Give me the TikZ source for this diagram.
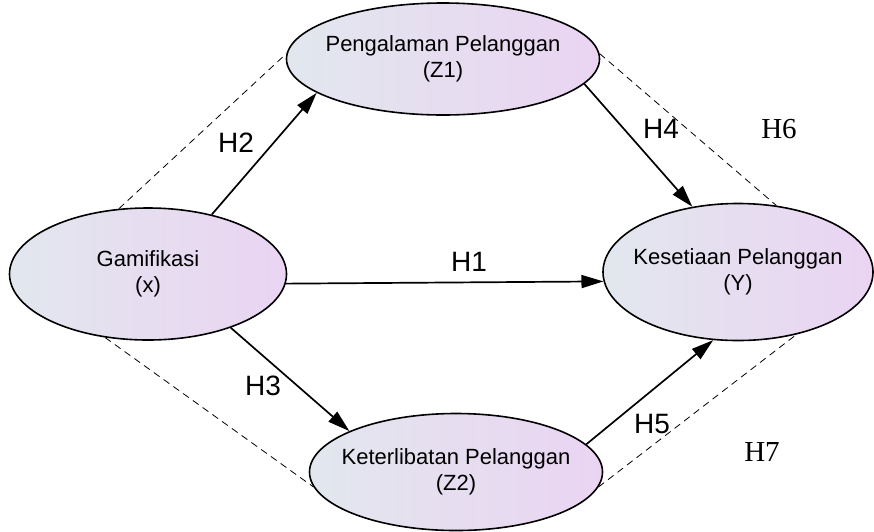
\documentclass[tikz,border=0pt]{standalone}
\usepackage{fontspec}
\setmainfont{Liberation Serif}
\setsansfont{Liberation Sans}
\usetikzlibrary{arrows.meta, shapes.geometric}
\definecolor{fillleft}{RGB}{226,231,238}
\definecolor{fillright}{RGB}{234,212,242}
\tikzset{
  construct/.style={
    ellipse,
    draw=black,
    line width=1.6pt,
    left color=fillleft,
    right color=fillright,
    align=center,
    inner xsep=-14pt,
    inner ysep=0pt,
    font=\sffamily\fontsize{22}{26}\selectfont
  },
  hyp/.style={
    font=\sffamily\fontsize{28}{30}\selectfont
  },
  hypserif/.style={
    font=\rmfamily\fontsize{29}{30}\selectfont
  },
  arrow/.style={draw, line width=1.7pt, -{Triangle[length=22pt,width=13pt]}},
  boundary/.style={draw, line width=0.8pt, dash pattern=on 7pt off 5pt}
}
\begin{document}
\begin{tikzpicture}[x=1pt, y=-1pt]
  \useasboundingbox (0,0) rectangle (874,531);
  \node (gam) [construct, minimum width=277pt, minimum height=132pt] at (148,274) {Gamifikasi \\ (x)};
  \node (pen) [construct, minimum width=313pt, minimum height=112pt] at (443,59) {Pengalaman Pelanggan \\ (Z1)};
  \node (kes) [construct, minimum width=270pt, minimum height=137pt] at (738,272) {Kesetiaan Pelanggan \\ (Y)};
  \node (ket) [construct, minimum width=293pt, minimum height=117pt] at (456,472) {Keterlibatan Pelanggan \\ (Z2)};
  \node (h1) [hyp] at (469,262) {H1};
  \node (h2) [hyp] at (236,143) {H2};
  \node (h3) [hyp] at (263,386) {H3};
  \node (h4) [hyp] at (661,129) {H4};
  \node (h5) [hyp] at (652,424) {H5};
  \node (h6) [hypserif] at (779,129) {H6};
  \node (h7) [hypserif] at (762,452) {H7};
  \path
  (gam.43) edge [arrow] (pen.195)
  (gam.-4) edge [arrow] (kes.184)
  (gam.-33) edge [arrow] (ket.159)
  (pen.-10) edge [arrow] (kes.125)
  (ket.12) edge [arrow] (kes.250)
  ;
  \path
  (gam.114) edge [boundary] (pen.178)
  (pen.2) edge [boundary] (kes.60)
  (gam.236) edge [boundary] (ket.186)
  (ket.-6) edge [boundary] (kes.-47)
  ;
\end{tikzpicture}
\end{document}
